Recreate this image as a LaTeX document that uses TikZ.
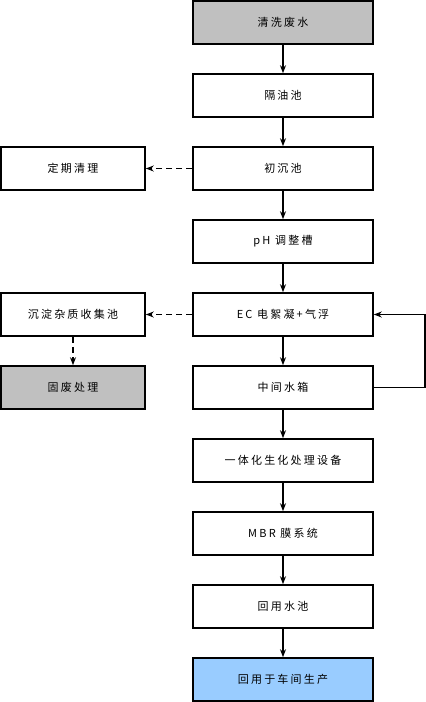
\documentclass[tikz,border=0pt]{standalone}
\usepackage{fontspec}
\newfontfamily\cjk[LetterSpace=20]{Noto Sans CJK SC}
\usetikzlibrary{arrows.meta}
\definecolor{boxgray}{HTML}{C0C0C0}
\definecolor{boxblue}{HTML}{99CCFF}
\begin{document}
\begin{tikzpicture}[x=1pt,y=-1pt,
  box/.style={draw=black, line width=1.6pt, minimum width=180pt, minimum height=43pt,
    inner sep=0pt, font=\cjk\fontsize{11}{13}\selectfont, text=black},
  sidebox/.style={box, minimum width=144pt},
  flow/.style={line width=1.2pt, -{Stealth[length=8pt,width=6pt]}},
  dflow/.style={flow, dash pattern=on 6pt off 4pt}]
\useasboundingbox (0,0) rectangle (426,702);
\node[box, fill=boxgray] (m1) at (283,22.5) {清洗废水};
\node[box] (m2) at (283,95.5) {隔油池};
\node[box] (m3) at (283,168.5) {初沉池};
\node[box] (m4) at (283,241.5) {pH 调整槽};
\node[box] (m5) at (283,314.5) {EC 电絮凝+气浮};
\node[box] (m6) at (283,387.5) {中间水箱};
\node[box] (m7) at (283,460.5) {一体化生化处理设备};
\node[box] (m8) at (283,533.5) {MBR 膜系统};
\node[box] (m9) at (283,606.5) {回用水池};
\node[box, fill=boxblue] (m10) at (283,679.5) {回用于车间生产};
\node[sidebox] (s1) at (73,168.5) {定期清理};
\node[sidebox] (s2) at (73,314.5) {沉淀杂质收集池};
\node[sidebox, fill=boxgray] (s3) at (73,387.5) {固废处理};
\foreach \a/\b in {m1/m2,m2/m3,m3/m4,m4/m5,m5/m6,m6/m7,m7/m8,m8/m9,m9/m10}
  \draw[flow] (\a) -- (\b);
\draw[dflow] (m3) -- (s1);
\draw[dflow] (m5) -- (s2);
\draw[dflow] (s2) -- (s3);
\coordinate (r1) at (425,387.5);
\coordinate (r2) at (425,314.5);
\draw[flow] (m6.east) -- (r1) -- (r2) -- (m5.east);
\end{tikzpicture}
\end{document}
